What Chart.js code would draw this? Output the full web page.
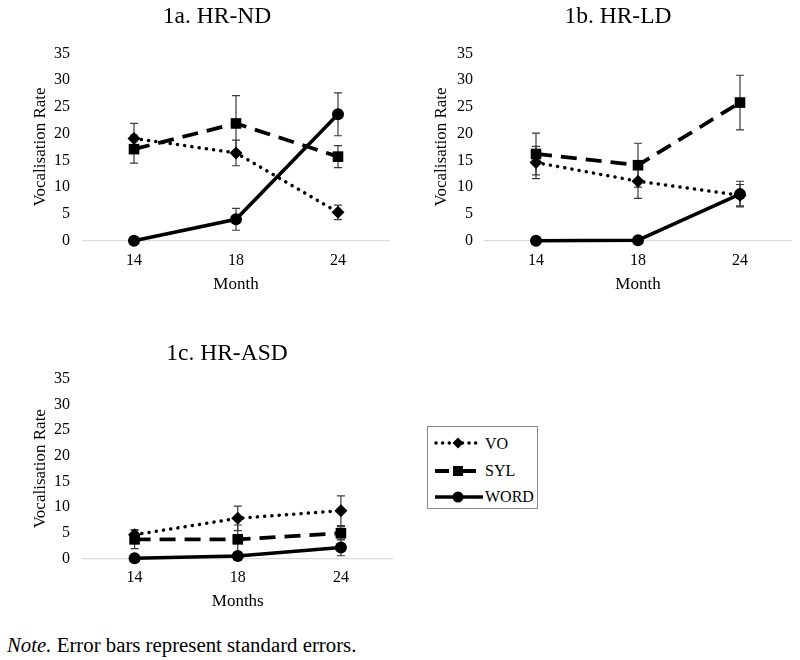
<!DOCTYPE html>
<html>
<head>
<meta charset="utf-8">
<script src="https://cdn.jsdelivr.net/npm/chart.js@4.4.0/dist/chart.umd.min.js"></script>
<style>
  body { margin: 0; width: 800px; height: 660px; position: relative; overflow: hidden; background: #fff;
         font-family: "Liberation Serif", "Times New Roman", serif; color: #000; }
  canvas { position: absolute; }
  .ttl { position: absolute; font-size: 23.5px; line-height: 28px; white-space: nowrap; transform: translateX(-50%); }
  #legend { position: absolute; left: 427px; top: 426px; width: 111px; height: 83px; box-sizing: border-box;
            border: 1px solid #8a8a8a; }
  #legend svg { position: absolute; left: 6px; }
  #legend span { position: absolute; left: 57px; font-size: 16px; line-height: 18px; }
  #note { position: absolute; left: 7px; top: 633px; font-size: 20.8px; line-height: 24px; white-space: nowrap; }
</style>
</head>
<body>
<canvas id="nd" width="400" height="300" style="left:0;top:0"></canvas>
<canvas id="ld" width="400" height="300" style="left:400px;top:0"></canvas>
<canvas id="asd" width="400" height="320" style="left:0;top:300px"></canvas>

<div class="ttl" style="left:217px;top:1px">1a. HR-ND</div>
<div class="ttl" style="left:618px;top:1px">1b. HR-LD</div>
<div class="ttl" style="left:227px;top:338px">1c. HR-ASD</div>

<div id="legend">
  <svg width="44" height="14" style="top:9px">
    <line x1="2" y1="7" x2="42" y2="7" stroke="#000" stroke-width="3.5" stroke-linecap="round" stroke-dasharray="0.1 6.5"/>
    <polygon points="24,1.5 29.5,7 24,12.5 18.5,7" fill="#000"/>
  </svg>
  <span style="top:8px">VO</span>
  <svg width="44" height="14" style="top:37px">
    <line x1="1" y1="7" x2="15" y2="7" stroke="#000" stroke-width="4"/>
    <rect x="19" y="2" width="10" height="10" fill="#000"/>
    <line x1="29" y1="7" x2="42" y2="7" stroke="#000" stroke-width="4"/>
  </svg>
  <span style="top:35px">SYL</span>
  <svg width="50" height="14" style="top:63px">
    <line x1="1" y1="7" x2="49" y2="7" stroke="#000" stroke-width="3.5"/>
    <circle cx="24" cy="7" r="5.5" fill="#000"/>
  </svg>
  <span style="top:61px">WORD</span>
</div>

<div id="note"><i>Note.</i> Error bars represent standard errors.</div>

<script>
const months = ["14", "18", "24"];

// 1a. HR-ND
const ndVo = [19.1, 16.4, 5.3];
const ndVoErr = [2.8, 2.4, 1.35];
const ndSyl = [17.1, 21.9, 15.7];
const ndSylErr = [2.6, 5.2, 2.05];
const ndWord = [0, 4.0, 23.6];
const ndWordErr = [0, 2.05, 4.0];

// 1b. HR-LD
const ldVo = [14.6, 11.1, 8.5];
const ldVoErr = [3.0, 3.2, 2.0];
const ldSyl = [16.2, 14.1, 25.8];
const ldSylErr = [3.9, 4.1, 5.1];
const ldWord = [0, 0.1, 8.7];
const ldWordErr = [0, 0, 2.4];

// 1c. HR-ASD
const asdVo = [4.6, 7.8, 9.3];
const asdVoErr = [1.0, 2.4, 2.9];
const asdSyl = [3.7, 3.7, 4.9];
const asdSylErr = [1.8, 2.8, 1.3];
const asdWord = [0, 0.45, 2.1];
const asdWordErr = [0, 0, 1.6];

const serif = "'Liberation Serif', 'Times New Roman', serif";

// barras de error verticales con tope, debajo de las líneas
const errorBars = {
  id: "errorBars",
  beforeDatasetsDraw(chart) {
    const { ctx, scales: { x, y } } = chart;
    ctx.save();
    ctx.strokeStyle = "#3a3a3a";
    ctx.lineWidth = 1.2;
    chart.data.datasets.forEach((ds) => {
      ds.err.forEach((e, j) => {
        if (!e) return;
        const px = x.getPixelForValue(j);
        const top = y.getPixelForValue(ds.data[j] + e);
        const bot = y.getPixelForValue(ds.data[j] - e);
        ctx.beginPath();
        ctx.moveTo(px, top); ctx.lineTo(px, bot);
        ctx.moveTo(px - 4, top); ctx.lineTo(px + 4, top);
        ctx.moveTo(px - 4, bot); ctx.lineTo(px + 4, bot);
        ctx.stroke();
      });
    });
    ctx.restore();
  },
};

function makeChart(id, xTitle, vo, voErr, syl, sylErr, word, wordErr, lay) {
  new Chart(document.getElementById(id), {
    type: "line",
    data: {
      labels: months,
      datasets: [
        { label: "VO", data: vo, err: voErr, borderColor: "#000", backgroundColor: "#000",
          borderWidth: 3.5, borderDash: [0.1, 7.2], borderCapStyle: "round",
          pointStyle: "rectRot", pointRadius: 6.5, pointBorderWidth: 0, clip: false },
        { label: "SYL", data: syl, err: sylErr, borderColor: "#000", backgroundColor: "#000",
          borderWidth: 3.8, borderDash: [16, 9],
          pointStyle: "rect", pointRadius: 7.5, pointBorderWidth: 0, clip: false },
        { label: "WORD", data: word, err: wordErr, borderColor: "#000", backgroundColor: "#000",
          borderWidth: 3.5,
          pointStyle: "circle", pointRadius: 6, pointBorderWidth: 0, clip: false },
      ],
    },
    options: {
      responsive: false,
      animation: false,
      layout: { padding: { left: 0, right: lay.padR, top: lay.top, bottom: lay.padB } },
      plugins: { legend: { display: false }, tooltip: { enabled: false } },
      scales: {
        x: {
          offset: true,
          grid: { display: false, drawTicks: false },
          border: { color: "#d9d9d9", width: 1.3 },
          ticks: { padding: 10, color: "#000", font: { family: serif, size: 16 } },
          title: { display: true, text: xTitle, color: "#000", font: { family: serif, size: 17 },
                   padding: { top: 4, bottom: 5 } },
          afterFit: (s) => { s.height = lay.xH; },
        },
        y: {
          min: 0, max: 35,
          grid: { display: false, drawTicks: false },
          border: { display: false },
          ticks: { stepSize: 5, padding: lay.yPad, color: "#000", font: { family: serif, size: 16 } },
          title: { display: true, text: "Vocalisation Rate", color: "#000", font: { family: serif, size: 17 },
                   padding: { top: lay.yTitlePad, bottom: 0 } },
          afterFit: (s) => { s.width = lay.left; },
        },
      },
    },
    plugins: [errorBars],
  });
}

makeChart("nd", "Month", ndVo, ndVoErr, ndSyl, ndSylErr, ndWord, ndWordErr,
  { left: 83, padR: 11, top: 53.3, padB: 0, xH: 59.3, yPad: 13, yTitlePad: 30 });
makeChart("ld", "Month", ldVo, ldVoErr, ldSyl, ldSylErr, ldWord, ldWordErr,
  { left: 85, padR: 9, top: 53.3, padB: 0, xH: 59.3, yPad: 12, yTitlePad: 31.5 });
makeChart("asd", "Months", asdVo, asdVoErr, asdSyl, asdSylErr, asdWord, asdWordErr,
  { left: 83, padR: 0, top: 79, padB: 3.1, xH: 58.6, yPad: 13, yTitlePad: 30 });
</script>
</body>
</html>
